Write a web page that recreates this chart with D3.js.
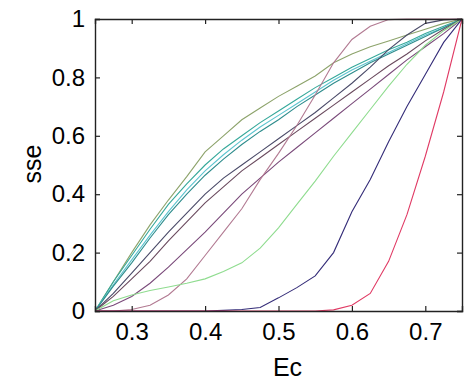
<!DOCTYPE html>
<html>
<head>
<meta charset="utf-8">
<script src="https://cdn.jsdelivr.net/npm/d3@7"></script>
<style>
  body { margin: 0; background: #fff; }
  text { font-family: "Liberation Sans", Arial, sans-serif; fill: #000; }
</style>
</head>
<body>
<div id="chart"></div>
<script>
// x positions shared by every curve
const ecValues = [0.25, 0.275, 0.3, 0.325, 0.35, 0.375, 0.4, 0.425, 0.45, 0.475, 0.5,
                  0.525, 0.55, 0.575, 0.6, 0.625, 0.65, 0.675, 0.7, 0.725, 0.75];

const olive = [0, 0.10, 0.20, 0.295, 0.38, 0.46, 0.545, 0.60, 0.655, 0.695, 0.735, 0.77, 0.805, 0.85, 0.88, 0.905, 0.925, 0.945, 0.965, 0.985, 1];
const teal = [0, 0.10, 0.19, 0.28, 0.365, 0.435, 0.50, 0.555, 0.60, 0.645, 0.685, 0.725, 0.765, 0.80, 0.835, 0.865, 0.895, 0.92, 0.95, 0.975, 1];
const cyan = [0, 0.09, 0.175, 0.26, 0.34, 0.415, 0.48, 0.535, 0.585, 0.63, 0.67, 0.71, 0.75, 0.79, 0.825, 0.855, 0.885, 0.915, 0.945, 0.97, 1];
const darkTeal = [0, 0.085, 0.165, 0.25, 0.33, 0.40, 0.465, 0.52, 0.57, 0.615, 0.655, 0.70, 0.74, 0.78, 0.815, 0.85, 0.88, 0.91, 0.94, 0.97, 1];
const slate = [0, 0.06, 0.13, 0.2, 0.27, 0.335, 0.40, 0.455, 0.50, 0.545, 0.59, 0.635, 0.68, 0.73, 0.78, 0.835, 0.895, 0.945, 0.985, 0.997, 1];
const plum = [0, 0.05, 0.11, 0.17, 0.24, 0.305, 0.37, 0.425, 0.48, 0.525, 0.57, 0.615, 0.66, 0.705, 0.75, 0.795, 0.84, 0.88, 0.925, 0.965, 1];
const purple = [0, 0.02, 0.05, 0.095, 0.15, 0.21, 0.27, 0.335, 0.40, 0.455, 0.51, 0.56, 0.61, 0.66, 0.71, 0.76, 0.81, 0.86, 0.905, 0.95, 1];
const mauve = [0, 0, 0.005, 0.02, 0.055, 0.11, 0.19, 0.27, 0.35, 0.45, 0.54, 0.635, 0.74, 0.85, 0.93, 0.975, 0.998, 1, 1, 1, 1];
const lightGreen = [0, 0.035, 0.055, 0.07, 0.082, 0.095, 0.11, 0.135, 0.165, 0.215, 0.285, 0.365, 0.445, 0.53, 0.61, 0.69, 0.77, 0.845, 0.91, 0.96, 1];
const navy = [0, 0, 0, 0, 0, 0, 0, 0.002, 0.005, 0.012, 0.045, 0.08, 0.12, 0.2, 0.34, 0.45, 0.58, 0.7, 0.81, 0.92, 1];
const red = [0, 0, 0, 0, 0, 0, 0, 0, 0, 0, 0, 0, 0, 0.004, 0.02, 0.06, 0.17, 0.33, 0.53, 0.75, 1];

const seriesList = [olive, teal, cyan, darkTeal, slate, plum, purple, mauve, lightGreen, navy, red];
const seriesColors = ["#8da36b", "#35a89a", "#5cc4cf", "#2e8c8c", "#4a4a68", "#6a4a5e",
                      "#7a4a7a", "#b27a92", "#8fdc8f", "#342c78", "#e03a64"];

const xTicks = [0.3, 0.4, 0.5, 0.6, 0.7];
const yTicks = [0, 0.2, 0.4, 0.6, 0.8, 1];

const width = 472, height = 386;
const plotLeft = 95, plotRight = 462, plotTop = 19, plotBottom = 311;
const tickLen = 5;

const svg = d3.select("#chart").append("svg")
    .attr("width", width)
    .attr("height", height);

svg.append("rect").attr("width", width).attr("height", height).attr("fill", "#fff");

const x = d3.scaleLinear().domain([0.25, 0.75]).range([plotLeft, plotRight]);
const y = d3.scaleLinear().domain([0, 1]).range([plotBottom, plotTop]);

svg.append("clipPath").attr("id", "plotclip")
    .append("rect")
    .attr("x", plotLeft).attr("y", plotTop - 1)
    .attr("width", plotRight - plotLeft).attr("height", plotBottom - plotTop + 1);

const line = d3.line()
    .x((d, i) => x(ecValues[i]))
    .y(d => y(d));

svg.append("g")
    .attr("clip-path", "url(#plotclip)")
    .selectAll("path")
    .data(seriesList)
    .join("path")
    .attr("d", line)
    .attr("fill", "none")
    .attr("stroke", (d, i) => seriesColors[i])
    .attr("stroke-width", 1.1);

// axes, matlab style: ticks pointing inward on every side
const fmt = d => String(d);
const xAxisBottom = d3.axisBottom(x).tickValues(xTicks).tickSize(-tickLen).tickPadding(12).tickFormat(fmt);
const xAxisTop = d3.axisTop(x).tickValues(xTicks).tickSize(-tickLen).tickFormat("");
const yAxisLeft = d3.axisLeft(y).tickValues(yTicks).tickSize(-tickLen).tickPadding(10).tickFormat(fmt);
const yAxisRight = d3.axisRight(y).tickValues(yTicks).tickSize(-tickLen).tickFormat("");

const axes = [
  [xAxisBottom, `translate(0,${plotBottom})`],
  [xAxisTop, `translate(0,${plotTop})`],
  [yAxisLeft, `translate(${plotLeft},0)`],
  [yAxisRight, `translate(${plotRight},0)`]
];
axes.forEach(([ax, tr]) => {
  const g = svg.append("g").attr("transform", tr).call(ax);
  g.select(".domain").attr("stroke", "#222").attr("stroke-width", 1.4);
  g.selectAll(".tick line").attr("stroke", "#222").attr("stroke-width", 1.2);
  g.selectAll(".tick text")
      .style("font-family", "'Liberation Sans', Arial, sans-serif")
      .style("font-size", "24px")
      .attr("fill", "#000");
});

svg.append("text")
    .attr("x", (plotLeft + plotRight) / 2 + 9)
    .attr("y", 376)
    .attr("text-anchor", "middle")
    .style("font-size", "25px")
    .text("Ec");

svg.append("text")
    .attr("transform", "translate(41,164) rotate(-90)")
    .attr("text-anchor", "middle")
    .style("font-size", "25px")
    .text("sse");
</script>
</body>
</html>
